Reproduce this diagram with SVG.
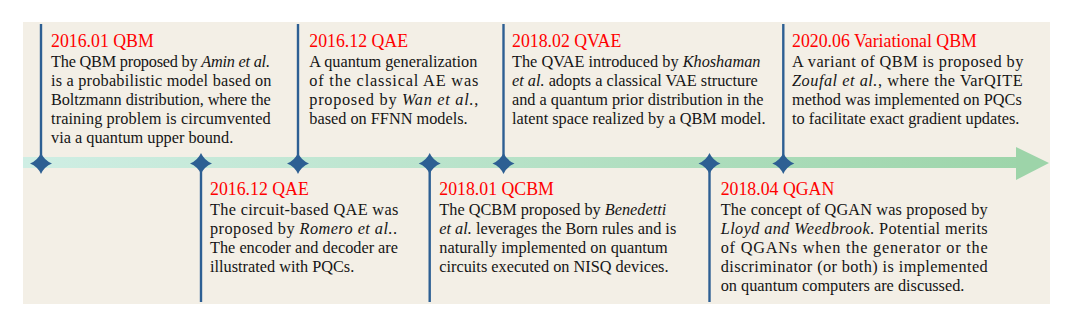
<svg xmlns="http://www.w3.org/2000/svg" width="1080" height="316" viewBox="0 0 1080 316">
<defs>
<linearGradient id="band" x1="0" y1="0" x2="1" y2="0">
<stop offset="0" stop-color="#cfeee4"/>
<stop offset="1" stop-color="#9dd5aa"/>
</linearGradient>
<path id="star" d="M-11,0 Q-3.2,-3.2 0,-10.5 Q3.2,-3.2 11,0 Q3.2,3.2 0,10.5 Q-3.2,3.2 -11,0 Z"/>
</defs>
<style>
.t{font-family:"Liberation Serif","Times New Roman",serif;font-size:17.8px;fill:#ff0000}
.b{font-family:"Liberation Serif","Times New Roman",serif;font-size:16.3px;fill:#151515}
.i{font-style:italic}
.ln{stroke:#2d5f93;stroke-width:2.4;fill:none}
.st{fill:#2d5f93}
</style>
<rect x="23" y="22" width="1027" height="282" fill="#f3efe6"/>
<g id="connectors">
<rect x="23" y="157" width="995" height="11" fill="url(#band)"/>
<polygon points="1016,147 1049,163 1016,180" fill="#9dd4a9"/>
<line class="ln" x1="41" y1="24" x2="41" y2="163"/>
<line class="ln" x1="298" y1="24" x2="298" y2="163"/>
<line class="ln" x1="503.5" y1="24" x2="503.5" y2="163"/>
<line class="ln" x1="783.3" y1="24" x2="783.3" y2="163"/>
<line class="ln" x1="201" y1="163" x2="201" y2="302"/>
<line class="ln" x1="429.7" y1="163" x2="429.7" y2="302"/>
<line class="ln" x1="709.5" y1="163" x2="709.5" y2="302"/>
<use href="#star" class="st" x="41" y="163.5"/>
<use href="#star" class="st" x="201" y="163.5"/>
<use href="#star" class="st" x="298" y="163.5"/>
<use href="#star" class="st" x="429.7" y="163.5"/>
<use href="#star" class="st" x="503.5" y="163.5"/>
<use href="#star" class="st" x="709.5" y="163.5"/>
<use href="#star" class="st" x="783.3" y="163.5"/>
</g>
<g id="qbm2016">
<text class="t" x="51" y="47">2016.01 QBM</text>
<text class="b" x="51" y="67" textLength="219" lengthAdjust="spacing">The QBM proposed by <tspan class="i">Amin et al.</tspan></text>
<text class="b" x="51" y="86" textLength="220.5" lengthAdjust="spacing">is a probabilistic model based on</text>
<text class="b" x="51" y="105" textLength="219.7" lengthAdjust="spacing">Boltzmann distribution, where the</text>
<text class="b" x="51" y="124" textLength="219.7" lengthAdjust="spacing">training problem is circumvented</text>
<text class="b" x="51" y="143">via a quantum upper bound.</text>
</g>
<g id="qae2016a">
<text class="t" x="309.3" y="47">2016.12 QAE</text>
<text class="b" x="309.3" y="67" textLength="168" lengthAdjust="spacing">A quantum generalization</text>
<text class="b" x="309.3" y="86" textLength="169" lengthAdjust="spacing">of the classical AE was</text>
<text class="b" x="309.3" y="105" textLength="169" lengthAdjust="spacing">proposed by <tspan class="i">Wan et al.</tspan>,</text>
<text class="b" x="309.3" y="124">based on FFNN models.</text>
</g>
<g id="qvae2018">
<text class="t" x="512" y="47">2018.02 QVAE</text>
<text class="b" x="512" y="67">The QVAE introduced by <tspan class="i">Khoshaman</tspan></text>
<text class="b" x="512" y="86"><tspan class="i">et al.</tspan> adopts a classical VAE structure</text>
<text class="b" x="512" y="105">and a quantum prior distribution in the</text>
<text class="b" x="512" y="124">latent space realized by a QBM model.</text>
</g>
<g id="vqbm2020">
<text class="t" x="792" y="47">2020.06 Variational QBM</text>
<text class="b" x="792" y="67" textLength="231.3" lengthAdjust="spacing">A variant of QBM is proposed by</text>
<text class="b" x="792" y="86" textLength="230.7" lengthAdjust="spacing"><tspan class="i">Zoufal et al.</tspan>, where the VarQITE</text>
<text class="b" x="792" y="105">method was implemented on PQCs</text>
<text class="b" x="792" y="124">to facilitate exact gradient updates.</text>
</g>
<g id="qae2016b">
<text class="t" x="210" y="195">2016.12 QAE</text>
<text class="b" x="210" y="215" textLength="188.3" lengthAdjust="spacing">The circuit-based QAE was</text>
<text class="b" x="210" y="234" textLength="187" lengthAdjust="spacing">proposed by <tspan class="i">Romero et al.</tspan>.</text>
<text class="b" x="210" y="253" textLength="188" lengthAdjust="spacing">The encoder and decoder are</text>
<text class="b" x="210" y="272">illustrated with PQCs.</text>
</g>
<g id="qcbm2018">
<text class="t" x="439.3" y="195">2018.01 QCBM</text>
<text class="b" x="439.3" y="215">The QCBM proposed by <tspan class="i">Benedetti</tspan></text>
<text class="b" x="439.3" y="234"><tspan class="i">et al.</tspan> leverages the Born rules and is</text>
<text class="b" x="439.3" y="253">naturally implemented on quantum</text>
<text class="b" x="439.3" y="272">circuits executed on NISQ devices.</text>
</g>
<g id="qgan2018">
<text class="t" x="720.7" y="195">2018.04 QGAN</text>
<text class="b" x="720.7" y="215" textLength="267" lengthAdjust="spacing">The concept of QGAN was proposed by</text>
<text class="b" x="720.7" y="234" textLength="267" lengthAdjust="spacing"><tspan class="i">Lloyd and Weedbrook</tspan>. Potential merits</text>
<text class="b" x="720.7" y="253" textLength="267" lengthAdjust="spacing">of QGANs when the generator or the</text>
<text class="b" x="720.7" y="272" textLength="267" lengthAdjust="spacing">discriminator (or both) is implemented</text>
<text class="b" x="720.7" y="291">on quantum computers are discussed.</text>
</g>
</svg>
